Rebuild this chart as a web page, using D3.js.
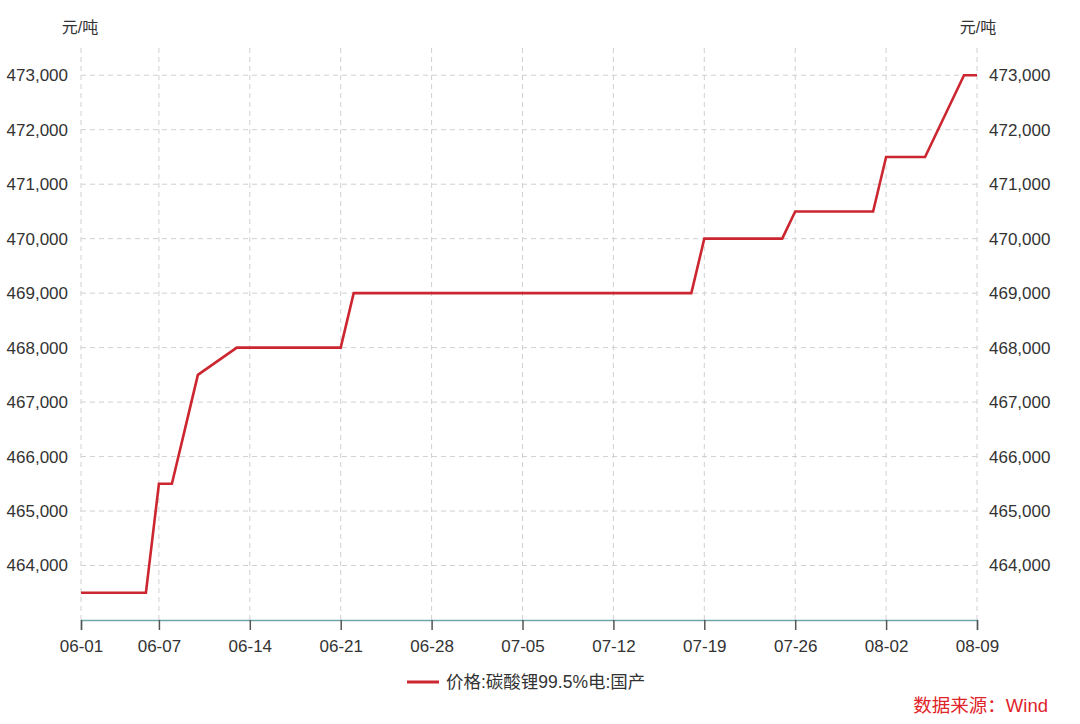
<!DOCTYPE html>
<html><head><meta charset="utf-8">
<script src="https://cdn.jsdelivr.net/npm/d3@7"></script>
<style>
html,body{margin:0;padding:0;background:#fff;}
svg{display:block;font-family:"Liberation Sans",Arial,"Noto Sans CJK SC",sans-serif;}
</style></head>
<body><svg id="c" width="1080" height="724"></svg>
<script>
const dates = [
 "2022-06-01","2022-06-02","2022-06-06","2022-06-07","2022-06-08","2022-06-09","2022-06-10",
 "2022-06-13","2022-06-14","2022-06-15","2022-06-16","2022-06-17","2022-06-20","2022-06-21",
 "2022-06-22","2022-06-23","2022-06-24","2022-06-27","2022-06-28","2022-06-29","2022-06-30",
 "2022-07-01","2022-07-04","2022-07-05","2022-07-06","2022-07-07","2022-07-08","2022-07-11",
 "2022-07-12","2022-07-13","2022-07-14","2022-07-15","2022-07-18",
 "2022-07-19","2022-07-20","2022-07-21","2022-07-22","2022-07-25",
 "2022-07-26","2022-07-27","2022-07-28","2022-07-29","2022-08-01",
 "2022-08-02","2022-08-03","2022-08-04","2022-08-05","2022-08-08","2022-08-09"
];
const prices = [
 463500,463500,463500,465500,465500,466500,467500,
 468000,468000,468000,468000,468000,468000,468000,
 469000,469000,469000,469000,469000,469000,469000,
 469000,469000,469000,469000,469000,469000,469000,
 469000,469000,469000,469000,469000,
 470000,470000,470000,470000,470000,
 470500,470500,470500,470500,470500,
 471500,471500,471500,471500,473000,473000
];
const xTickDates = ["2022-06-01","2022-06-07","2022-06-14","2022-06-21","2022-06-28","2022-07-05","2022-07-12","2022-07-19","2022-07-26","2022-08-02","2022-08-09"];
const yTicks = [464000,465000,466000,467000,468000,469000,470000,471000,472000,473000];
const seriesName = "价格:碳酸锂99.5%电:国产";
const unitLabel = "元/吨";
const sourceLabel = "数据来源：Wind";

const parse = d3.timeParse("%Y-%m-%d");
const data = dates.map((d,i)=>({date:parse(d), v:prices[i]}));

const svg = d3.select("#c");
const L = 81, R = 977, T = 48, B = 620;
const x = d3.scaleTime().domain([parse("2022-06-01"), parse("2022-08-09")]).range([L, R]);
const y = d3.scaleLinear().domain([463000, 473500]).range([B, T]);

const grid = svg.append("g");
grid.selectAll("line.h").data(yTicks).join("line")
  .attr("x1", L).attr("x2", R).attr("y1", d=>y(d)).attr("y2", d=>y(d))
  .attr("stroke", "#d0d0d0").attr("stroke-width", 1).attr("stroke-dasharray", "5,4");
grid.selectAll("line.v").data(xTickDates.map(parse)).join("line")
  .attr("x1", d=>x(d)).attr("x2", d=>x(d)).attr("y1", T).attr("y2", B)
  .attr("stroke", "#d0d0d0").attr("stroke-width", 1).attr("stroke-dasharray", "5,4");

const fmtX = d3.timeFormat("%m-%d");
const xAxis = svg.append("g").attr("transform", `translate(0,${B})`)
  .call(d3.axisBottom(x).tickValues(xTickDates.map(parse)).tickFormat(fmtX).tickSize(10).tickPadding(10));
xAxis.select(".domain").attr("stroke", "#6fa7ab").attr("stroke-width", 1.5);
xAxis.selectAll(".tick line").attr("stroke", "#555").attr("stroke-width", 1.5);
xAxis.selectAll(".tick text").attr("fill", "#333").attr("font-size", 17)
  .attr("font-family", "Liberation Sans, Arial, sans-serif");

const fmtY = d3.format(",");
const yl = svg.append("g").attr("transform", `translate(${L},0)`)
  .call(d3.axisLeft(y).tickValues(yTicks).tickFormat(fmtY).tickSize(0).tickPadding(13));
yl.select(".domain").remove();
yl.selectAll(".tick text").attr("fill", "#333").attr("font-size", 17)
  .attr("font-family", "Liberation Sans, Arial, sans-serif");
const yr = svg.append("g").attr("transform", `translate(${R},0)`)
  .call(d3.axisRight(y).tickValues(yTicks).tickFormat(fmtY).tickSize(0).tickPadding(12));
yr.select(".domain").remove();
yr.selectAll(".tick text").attr("fill", "#333").attr("font-size", 17)
  .attr("font-family", "Liberation Sans, Arial, sans-serif");

svg.append("text").attr("x", 80).attr("y", 33).attr("text-anchor", "middle")
  .attr("font-size", 16).attr("fill", "#333").text(unitLabel);
svg.append("text").attr("x", 978).attr("y", 33).attr("text-anchor", "middle")
  .attr("font-size", 16).attr("fill", "#333").text(unitLabel);

const line = d3.line().x(d=>x(d.date)).y(d=>y(d.v));
svg.append("path").datum(data).attr("d", line)
  .attr("fill", "none").attr("stroke", "#cc2630").attr("stroke-width", 2.6)
  .attr("stroke-linejoin", "miter");

const lg = svg.append("g").attr("transform", "translate(407,682)");
lg.append("line").attr("x1", 0).attr("x2", 32).attr("y1", 0).attr("y2", 0)
  .attr("stroke", "#cc2630").attr("stroke-width", 3);
lg.append("text").attr("x", 39).attr("y", 6).attr("font-size", 17.5).attr("fill", "#333").text(seriesName);

svg.append("text").attr("x", 1048).attr("y", 712).attr("text-anchor", "end")
  .attr("font-size", 18.5).attr("fill", "#e0242b").text(sourceLabel);
</script></body></html>
